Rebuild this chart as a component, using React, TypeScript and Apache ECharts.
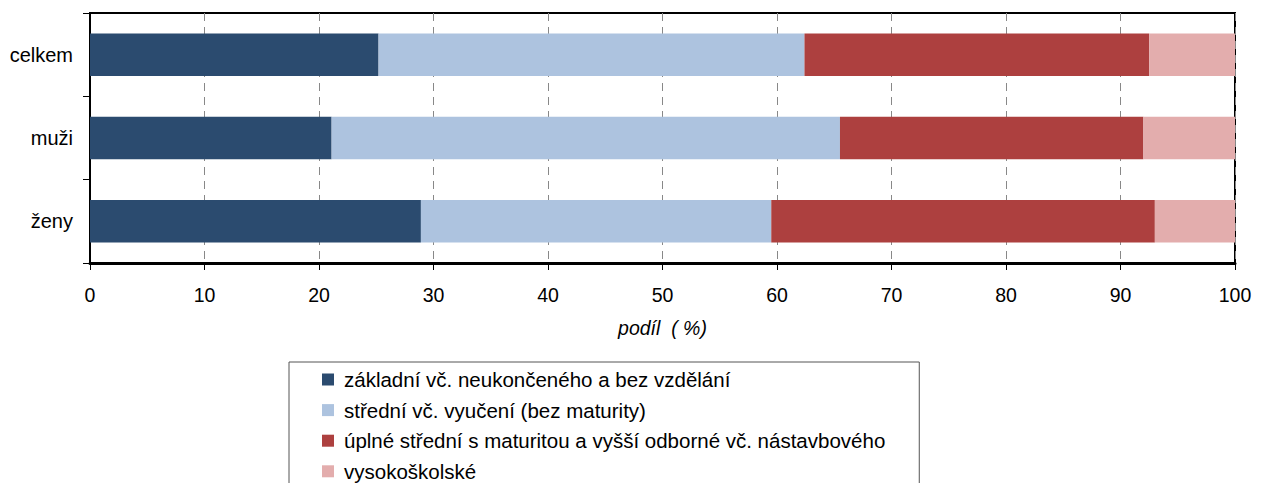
import React, { useEffect, useRef } from "react";
import * as echarts from "echarts";

const categories = ["celkem", "muži", "ženy"];
const seriesNames = [
  "základní vč. neukončeného a bez vzdělání",
  "střední vč. vyučení (bez maturity)",
  "úplné střední s maturitou a vyšší odborné vč. nástavbového",
  "vysokoškolské",
];
const zakladni = [25.2, 21.1, 28.9];
const stredni = [37.2, 44.4, 30.6];
const uplne = [30.1, 26.5, 33.5];
const vysoko = [7.5, 8.0, 7.0];
const colors = ["#2B4B6F", "#ADC3DF", "#AD403F", "#E3ADAD"];

export default function App() {
  const ref = useRef<HTMLDivElement>(null);
  useEffect(() => {
    if (!ref.current) return;
    const chart = echarts.init(ref.current, null, { renderer: "svg" });
    const font = "'Liberation Sans', Arial, sans-serif";
    const data = [zakladni, stredni, uplne, vysoko];
    chart.setOption({
      animation: false,
      textStyle: { fontFamily: font },
      grid: {
        left: 90,
        right: 26,
        top: 13,
        bottom: 220,
        show: true,
        borderColor: "#000",
        borderWidth: 2,
      },
      legend: {
        orient: "vertical",
        left: 289,
        top: 362,
        height: 200,
        icon: "rect",
        itemWidth: 12,
        itemHeight: 12,
        itemGap: 9.6,
        padding: [7, 34, 10, 33],
        borderColor: "#555",
        borderWidth: 1,
        textStyle: { fontSize: 20.5, color: "#000", fontFamily: font, padding: [0, 0, 0, 5] },
        data: seriesNames,
      },
      xAxis: {
        type: "value",
        min: 0,
        max: 100,
        interval: 10,
        name: "podíl  ( %)",
        nameLocation: "middle",
        nameGap: 55,
        nameTextStyle: { fontSize: 19.5, fontStyle: "italic", color: "#000", fontFamily: font },
        axisLine: { show: true, lineStyle: { color: "#000", width: 3 } },
        axisTick: { show: true, length: 7, lineStyle: { color: "#000" } },
        axisLabel: { fontSize: 19.5, color: "#000", margin: 22, fontFamily: font },
        splitLine: { show: true, lineStyle: { color: "#888", type: [8, 6], width: 1 } },
      },
      yAxis: {
        type: "category",
        inverse: true,
        data: categories,
        axisLine: { show: true, lineStyle: { color: "#000", width: 2 } },
        axisTick: { show: true, length: 7, lineStyle: { color: "#000" } },
        axisLabel: { fontSize: 20, color: "#000", margin: 17, fontFamily: font },
        splitLine: { show: false },
      },
      series: seriesNames.map((name, i) => ({
        name,
        type: "bar",
        stack: "total",
        barWidth: "51%",
        itemStyle: { color: colors[i] },
        data: data[i],
      })),
    });
    return () => chart.dispose();
  }, []);
  return (
    <div
      ref={ref}
      style={{ position: "absolute", left: 0, top: 0, width: 1261, height: 483 }}
    />
  );
}
